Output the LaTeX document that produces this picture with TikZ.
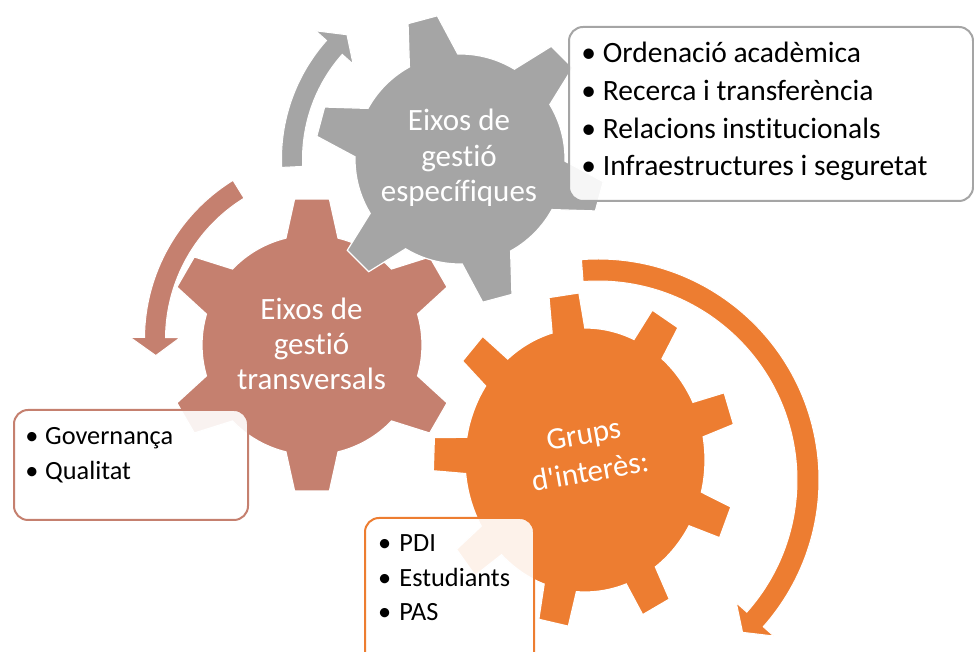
\documentclass[tikz,border=0pt]{standalone}
\usepackage{fontspec}
\setmainfont{Carlito}[Ligatures=NoCommon, RawFeature={-liga;-clig;-calt}]
\newfontfamily\calfont{Carlito}[Ligatures=NoCommon, RawFeature={-liga;-clig;-calt}]
\definecolor{gearorange}{HTML}{ED7D31}
\definecolor{gearbrown}{HTML}{C5806F}
\definecolor{geargray}{HTML}{A5A5A5}

% gear: #1 style, #2 teeth, #3 body radius, #4 tip radius, #5 first tooth angle, #6 half tip angle, #7 half base angle
\newcommand{\geardraw}[7]{%
  \pgfmathtruncatemacro{\gearlast}{#2-1}%
  \pgfmathsetmacro{\gearstep}{360/#2}%
  \path[#1] ({#5-#7}:#3pt)
    \foreach \k in {0,...,\gearlast}{
      -- ({#5+\k*\gearstep-#7}:#3pt) -- ({#5+\k*\gearstep-#6}:#4pt)
      -- ({#5+\k*\gearstep+#6}:#4pt) -- ({#5+\k*\gearstep+#7}:#3pt)
      arc[start angle={#5+\k*\gearstep+#7}, end angle={#5+(\k+1)*\gearstep-#7}, radius=#3pt]
    } -- cycle;
}
% circular arrow: #1 style, #2 start angle, #3 end angle, #4 mid radius, #5 half band, #6 half head, #7 tip angle
\newcommand{\ringarrow}[7]{%
  \pgfmathsetmacro{\aRo}{#4+#5}\pgfmathsetmacro{\aRi}{#4-#5}%
  \pgfmathsetmacro{\aHo}{#4+#6}\pgfmathsetmacro{\aHi}{#4-#6}%
  \path[#1] (#2:\aRo pt) arc[start angle=#2, end angle=#3, radius=\aRo pt]
    -- (#3:\aHo pt) -- (#7:#4pt) -- (#3:\aHi pt) -- (#3:\aRi pt)
    arc[start angle=#3, end angle=#2, radius=\aRi pt] -- cycle;
}
\newcommand{\bul}[1]{\makebox[#1][c]{•}}

\tikzset{
  gearshape/.style={fill=#1, draw=white, line width=1.2pt},
  ringshape/.style={fill=#1, draw=white, line width=1pt},
  listbox/.style={draw=#1, line width=2pt, rounded corners=14pt, fill=white, fill opacity=0.9, anchor=north west, inner sep=0pt},
  gearlabel/.style={text=white, anchor=base, inner sep=0pt, font=\calfont\fontsize{31}{37}\selectfont},
  listline/.style={text=black, anchor=base west, inner sep=0pt, font=\calfont\fontsize{#1}{#1}\selectfont},
}

\begin{document}
\begin{tikzpicture}[x=1pt,y=1pt]
\useasboundingbox (0,0) rectangle (974,652);
\clip (0,0) rectangle (974,652);

% gears
\begin{scope}[shift={(585,192)}, yscale=1.1]
  \geardraw{gearshape=gearorange}{9}{120}{152}{98}{5.7}{7.9}
\end{scope}
\begin{scope}[shift={(312,307)}]
  \geardraw{gearshape=gearbrown}{6}{110}{147}{90}{6.8}{13.7}
\end{scope}
\begin{scope}[shift={(460,493)}]
  \geardraw{gearshape=geargray}{6}{105}{145}{105}{6.0}{13.8}
\end{scope}

% circular arrows
\begin{scope}[shift={(460,493)}]
  \ringarrow{ringshape=geargray}{182.7}{138.4}{168}{10.5}{25}{132.3}
\end{scope}
\begin{scope}[shift={(331,313)}]
  \ringarrow{ringshape=gearbrown}{121.7}{179.5}{176}{10.5}{25}{185.4}
\end{scope}
\begin{scope}[shift={(598,172)}]
  \ringarrow{ringshape=gearorange}{94.3}{-41.6}{210}{11}{25}{-46.5}
\end{scope}

% gear labels
\node[gearlabel] (gl1) at (459,521) {Eixos de};
\node[gearlabel] (gl2) at (459,485.5) {gestió};
\node[gearlabel] (gl3) at (459,450) {específiques};
\node[gearlabel] (bl1) at (311.5,332.7) {Eixos de};
\node[gearlabel] (bl2) at (311.5,297) {gestió};
\node[gearlabel] (bl3) at (311.5,262.7) {transversals};
\node[gearlabel, anchor=center, align=center, rotate=10,
      font=\calfont\fontsize{31}{38}\selectfont] (ol) at (586.8,198.8) {Grups\\d'interès:};

% list boxes
\node[listbox=geargray, minimum width=404pt, minimum height=174pt] (gbox) at (568,626) {};
\node[listbox=gearbrown, minimum width=234pt, minimum height=110pt] (bbox) at (13,243) {};
\node[listbox=gearorange, minimum width=169pt, minimum height=165pt] (obox) at (364,135) {};

\node[listline=29.5] (g1) at (574.3,589.3) {\bul{28.4pt}Ordenació acadèmica};
\node[listline=29.5] (g2) at (574.3,551) {\bul{28.4pt}Recerca i transferència};
\node[listline=29.5] (g3) at (574.3,513.7) {\bul{28.4pt}Relacions institucionals};
\node[listline=29.5] (g4) at (574.3,476) {\bul{28.4pt}Infraestructures i seguretat};

\node[listline=26.3] (b1) at (18.4,207) {\bul{26.6pt}Governança};
\node[listline=26.3] (b2) at (18.4,172) {\bul{26.6pt}Qualitat};

\node[listline=26.3] (o1) at (369.7,100.3) {\bul{29.6pt}PDI};
\node[listline=26.3] (o2) at (369.7,65.3) {\bul{29.6pt}Estudiants};
\node[listline=26.3] (o3) at (369.7,31) {\bul{29.6pt}PAS};
\end{tikzpicture}
\end{document}
